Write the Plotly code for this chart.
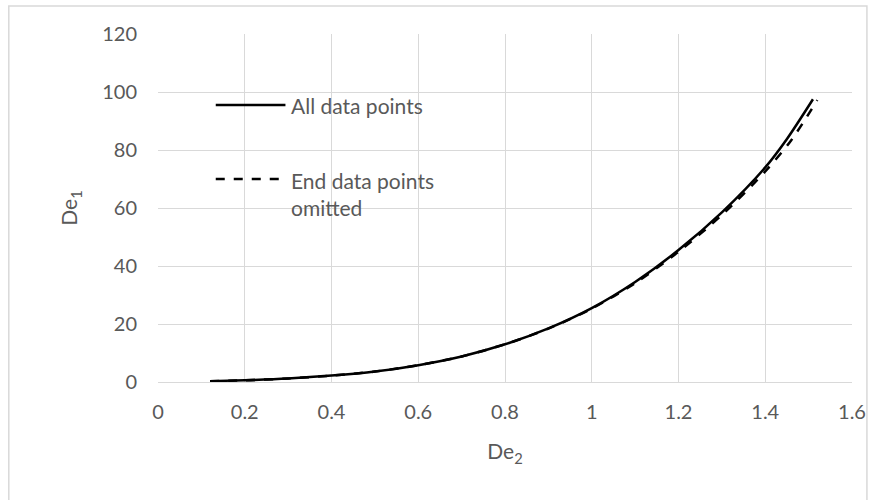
import plotly.graph_objects as go

# De2 / De1 relation, full fit and fit with the end data points left out
de2_all = [0.12, 0.2, 0.3, 0.4, 0.5, 0.6, 0.7, 0.8, 0.9, 1.0, 1.1, 1.2, 1.3, 1.4, 1.45, 1.51]
de1_all = [0.3, 0.6, 1.2, 2.2, 3.6, 5.8, 8.8, 13.0, 18.5, 25.5, 34.5, 45.5, 58.5, 74.0, 83.8, 97.5]

de2_omit = [0.12, 0.2, 0.3, 0.4, 0.5, 0.6, 0.7, 0.8, 0.9, 1.0, 1.1, 1.2, 1.3, 1.4, 1.46, 1.52]
de1_omit = [0.3, 0.6, 1.2, 2.2, 3.6, 5.8, 8.8, 13.0, 18.4, 25.3, 34.1, 44.9, 57.6, 72.6, 83.4, 97.2]

x_ticks = [0, 0.2, 0.4, 0.6, 0.8, 1, 1.2, 1.4, 1.6]
y_ticks = [0, 20, 40, 60, 80, 100, 120]

FONT = "Lato"
TXT = "#595959"
GRID = "#d9d9d9"

fig = go.Figure()
fig.add_trace(go.Scatter(x=de2_all, y=de1_all, mode="lines", name="All data points",
                         line=dict(color="black", width=2.5, shape="spline", smoothing=0.8),
                         showlegend=False))
fig.add_trace(go.Scatter(x=de2_omit, y=de1_omit, mode="lines", name="End data points omitted",
                         line=dict(color="black", width=2.5, dash="dash", shape="spline", smoothing=0.8),
                         showlegend=False))

# outer chart frame
fig.add_shape(type="rect", xref="paper", yref="paper", x0=-0.215, x1=1.0215, y0=-0.5, y1=1.0805,
              line=dict(color=GRID, width=1.5), fillcolor="rgba(0,0,0,0)", layer="below")

# legend keys drawn inside the plot area
fig.add_shape(type="line", xref="paper", yref="paper", x0=(216 - 158) / 697, x1=(286 - 158) / 697,
              y0=(382 - 105) / 348, y1=(382 - 105) / 348, line=dict(color="black", width=2.5))
fig.add_shape(type="line", xref="paper", yref="paper", x0=(216 - 158) / 697, x1=(286 - 158) / 697,
              y0=(382 - 179) / 348, y1=(382 - 179) / 348, line=dict(color="black", width=2.5, dash="dash"))
fig.add_annotation(xref="paper", yref="paper", x=(290 - 158) / 697, y=(382 - 106) / 348,
                   text="All data points", showarrow=False, xanchor="left", yanchor="middle",
                   font=dict(family=FONT, size=21, color=TXT))
fig.add_annotation(xref="paper", yref="paper", x=(290 - 158) / 697, y=(382 - 194) / 348,
                   text="End data points<br>omitted", showarrow=False, xanchor="left", yanchor="middle",
                   align="left", font=dict(family=FONT, size=21, color=TXT))

fig.update_layout(
    width=878, height=500,
    margin=dict(l=158, r=23, t=34, b=118),
    paper_bgcolor="white", plot_bgcolor="white",
    font=dict(family=FONT, size=20, color=TXT),
    xaxis=dict(range=[0, 1.6], tickvals=x_ticks, ticktext=[f"{v:g}" for v in x_ticks],
               showgrid=True, gridcolor=GRID, gridwidth=1, zeroline=False,
               showline=True, linecolor=GRID, linewidth=1, ticks="", ticklabelstandoff=12,
               title=dict(text="De<sub>2</sub>", font=dict(size=21, color=TXT), standoff=22)),
    yaxis=dict(range=[0, 120], tickvals=y_ticks,
               showgrid=True, gridcolor=GRID, gridwidth=1, zeroline=False,
               showline=False, ticks="", ticklabelstandoff=20,
               title=dict(text="De<sub>1</sub>", font=dict(size=21, color=TXT), standoff=18)),
)

fig.write_html("out.html")
